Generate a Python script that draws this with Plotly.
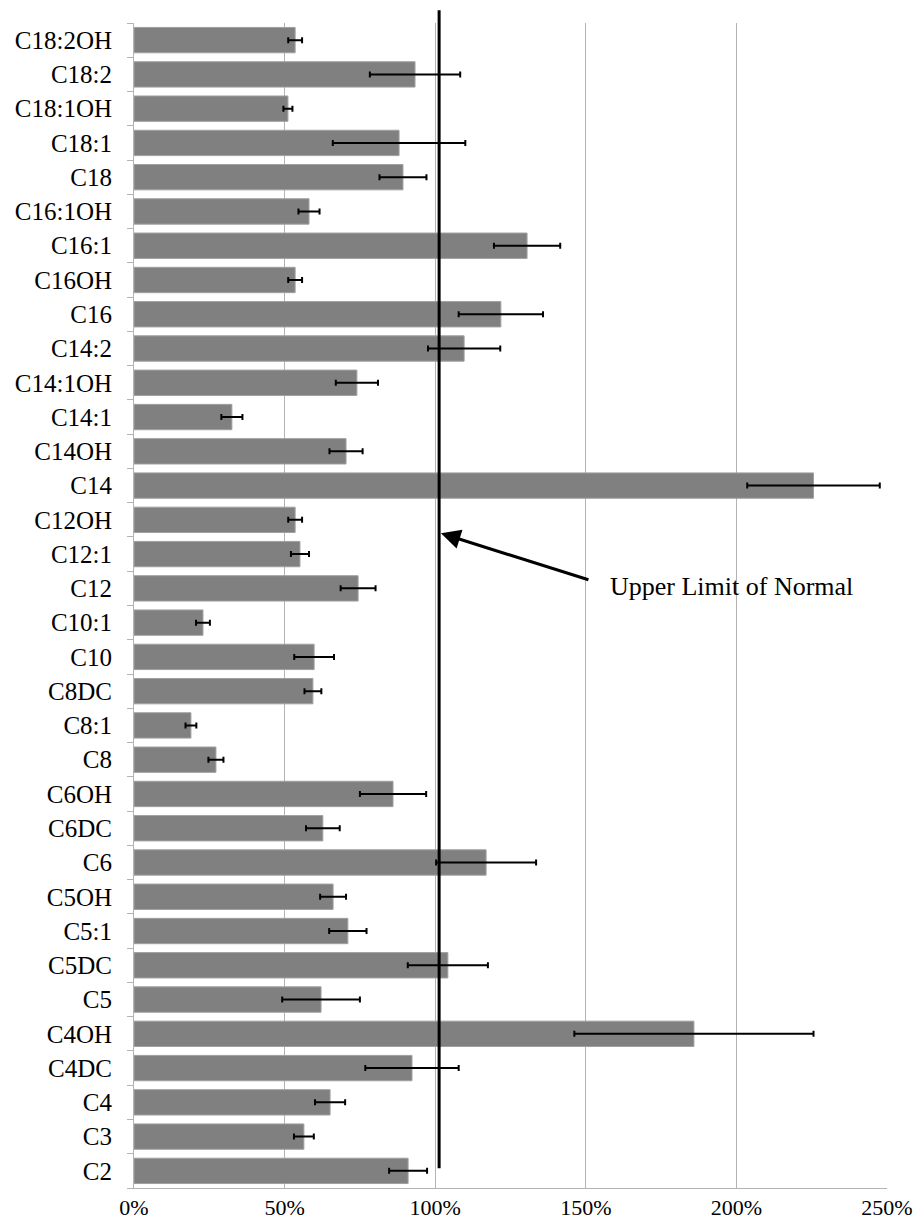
import plotly.graph_objects as go

categories = ["C2", "C3", "C4", "C4DC", "C4OH", "C5", "C5DC", "C5:1", "C5OH", "C6",
              "C6DC", "C6OH", "C8", "C8:1", "C8DC", "C10", "C10:1", "C12", "C12:1", "C12OH",
              "C14", "C14OH", "C14:1", "C14:1OH", "C14:2", "C16", "C16OH", "C16:1", "C16:1OH", "C18",
              "C18:1", "C18:1OH", "C18:2", "C18:2OH"]
values = [0.910, 0.564, 0.651, 0.923, 1.859, 0.621, 1.042, 0.710, 0.661, 1.169,
          0.627, 0.860, 0.272, 0.189, 0.594, 0.598, 0.229, 0.744, 0.551, 0.535,
          2.256, 0.704, 0.325, 0.740, 1.096, 1.218, 0.535, 1.305, 0.581, 0.893,
          0.880, 0.511, 0.933, 0.535]
errors = [0.063, 0.033, 0.050, 0.155, 0.397, 0.129, 0.133, 0.062, 0.043, 0.166,
          0.056, 0.110, 0.025, 0.018, 0.028, 0.066, 0.023, 0.058, 0.030, 0.023,
          0.220, 0.055, 0.035, 0.070, 0.120, 0.140, 0.023, 0.110, 0.035, 0.078,
          0.220, 0.015, 0.150, 0.023]
x_ticks = [0, 0.5, 1.0, 1.5, 2.0, 2.5]
x_ticklabels = ["0%", "50%", "100%", "150%", "200%", "250%"]
upper_limit = 1.013
annotation_text = "Upper Limit of Normal"

fig = go.Figure()
fig.add_trace(go.Bar(
    y=categories, x=values, orientation="h",
    marker=dict(color="#808080", line=dict(color="#a0a0a0", width=1)),
    error_x=dict(type="data", array=errors, visible=True, color="black",
                 thickness=2, width=3),
    showlegend=False,
))

fig.add_shape(type="line", xref="x", yref="paper",
              x0=upper_limit, x1=upper_limit, y0=0.017, y1=1.011,
              line=dict(color="black", width=3))

fig.add_annotation(x=1.019, y=0.562, xref="x", yref="paper", text="",
                   showarrow=True, arrowhead=2, arrowsize=1.3, arrowwidth=3,
                   arrowcolor="black", ax=149, ay=47, axref="pixel", ayref="pixel")
fig.add_annotation(x=1.574, y=0.516, xref="x", yref="paper", text=annotation_text,
                   showarrow=False, xanchor="left", yanchor="middle",
                   font=dict(family="Liberation Serif", size=26, color="black"))

fig.update_layout(
    width=920, height=1222,
    margin=dict(l=134, r=33, t=23, b=34),
    paper_bgcolor="white", plot_bgcolor="white",
    bargap=0.26,
    font=dict(family="Liberation Serif", size=24, color="black"),
    xaxis=dict(range=[0, 2.5], tickvals=x_ticks, ticktext=x_ticklabels,
               showgrid=True, gridcolor="#b3b3b3", gridwidth=1,
               showline=True, linecolor="#b3b3b3", linewidth=1,
               ticks="", zeroline=False, tickfont=dict(size=22),
               automargin=False, ticklabelstandoff=0),
    yaxis=dict(categoryorder="array", categoryarray=categories,
               showline=True, linecolor="#b3b3b3", linewidth=1,
               ticks="outside", tickson="boundaries", ticklen=6, tickcolor="#b3b3b3",
               showgrid=False, tickfont=dict(size=25), range=[-0.5, 33.5],
               automargin=False, ticklabelstandoff=16),
)

fig.write_html("out.html", config={"displayModeBar": False},
               post_script="document.body.style.margin='0';document.body.style.overflow='hidden';")
